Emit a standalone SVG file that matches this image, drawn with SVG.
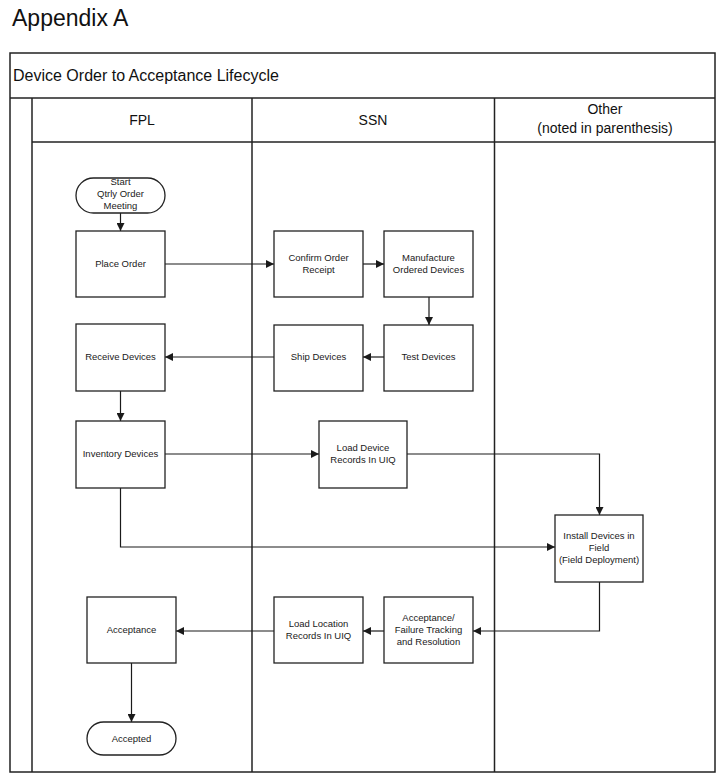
<svg xmlns="http://www.w3.org/2000/svg" width="725" height="780" viewBox="0 0 725 780">
<style>
.frame{fill:none;stroke:#222;stroke-width:1.5}
.box{fill:#fff;stroke:#222;stroke-width:1.3}
.t{font-family:"Liberation Sans",Arial,sans-serif;font-size:9.5px;fill:#1a1a1a;text-anchor:middle}
.h{font-family:"Liberation Sans",Arial,sans-serif;font-size:14px;fill:#111;text-anchor:middle}
.c{fill:none;stroke:#1a1a1a;stroke-width:1.2}
</style>
<defs>
<marker id="ah" viewBox="0 0 10 10" refX="10" refY="5" markerWidth="8" markerHeight="8" markerUnits="userSpaceOnUse" orient="auto">
<path d="M0,0 L10,5 L0,10 z" fill="#1a1a1a"/>
</marker>
</defs>
<rect width="725" height="780" fill="#fff"/>
<text x="12" y="26" font-family="'Liberation Sans',Arial,sans-serif" font-size="23" fill="#111">Appendix A</text>
<g id="frame">
<rect class="frame" x="10" y="53" width="705" height="719"/>
<line class="frame" x1="10" y1="98" x2="715" y2="98"/>
<line class="frame" x1="32" y1="98" x2="32" y2="772"/>
<line class="frame" x1="252" y1="98" x2="252" y2="772"/>
<line class="frame" x1="494.5" y1="98" x2="494.5" y2="772"/>
<line class="frame" x1="32" y1="142" x2="715" y2="142"/>
<text x="13" y="81" font-family="'Liberation Sans',Arial,sans-serif" font-size="16" fill="#111">Device Order to Acceptance Lifecycle</text>
<text class="h" x="142" y="125">FPL</text>
<text class="h" x="373" y="125">SSN</text>
<text class="h" x="605" y="114">Other</text>
<text class="h" x="605" y="133">(noted in parenthesis)</text>
</g>
<g id="connectors">
<line class="c" x1="120.5" y1="213" x2="120.5" y2="231" marker-end="url(#ah)"/>
<line class="c" x1="165" y1="264" x2="274" y2="264" marker-end="url(#ah)"/>
<line class="c" x1="363" y1="264" x2="384" y2="264" marker-end="url(#ah)"/>
<line class="c" x1="429" y1="297" x2="429" y2="325" marker-end="url(#ah)"/>
<line class="c" x1="384" y1="357" x2="363" y2="357" marker-end="url(#ah)"/>
<line class="c" x1="274" y1="357" x2="165" y2="357" marker-end="url(#ah)"/>
<line class="c" x1="120.5" y1="391" x2="120.5" y2="421" marker-end="url(#ah)"/>
<line class="c" x1="165" y1="454" x2="319" y2="454" marker-end="url(#ah)"/>
<polyline class="c" points="407,454 599.5,454 599.5,515" marker-end="url(#ah)"/>
<polyline class="c" points="120.5,488 120.5,547 555,547" marker-end="url(#ah)"/>
<polyline class="c" points="599.5,582 599.5,631 473,631" marker-end="url(#ah)"/>
<line class="c" x1="384" y1="631" x2="363" y2="631" marker-end="url(#ah)"/>
<line class="c" x1="274" y1="631" x2="176" y2="631" marker-end="url(#ah)"/>
<line class="c" x1="131.5" y1="663" x2="131.5" y2="722" marker-end="url(#ah)"/>
</g>
<g id="start">
<rect class="box" x="76" y="178" width="89" height="35" rx="17.5"/>
<text class="t" x="120.5" y="185">Start</text>
<text class="t" x="120.5" y="197">Qtrly Order</text>
<text class="t" x="120.5" y="209">Meeting</text>
</g>
<g id="place-order">
<rect class="box" x="76" y="231" width="89" height="66"/>
<text class="t" x="120.5" y="267">Place Order</text>
</g>
<g id="confirm-order">
<rect class="box" x="274" y="231" width="89" height="66"/>
<text class="t" x="318.5" y="261">Confirm Order</text>
<text class="t" x="318.5" y="273">Receipt</text>
</g>
<g id="manufacture">
<rect class="box" x="384" y="231" width="89" height="66"/>
<text class="t" x="428.5" y="261">Manufacture</text>
<text class="t" x="428.5" y="273">Ordered Devices</text>
</g>
<g id="receive-devices">
<rect class="box" x="76" y="324" width="89" height="67"/>
<text class="t" x="120.5" y="360">Receive Devices</text>
</g>
<g id="ship-devices">
<rect class="box" x="274" y="325" width="89" height="66"/>
<text class="t" x="318.5" y="360">Ship Devices</text>
</g>
<g id="test-devices">
<rect class="box" x="384" y="325" width="89" height="66"/>
<text class="t" x="428.5" y="360">Test Devices</text>
</g>
<g id="inventory-devices">
<rect class="box" x="76" y="421" width="89" height="67"/>
<text class="t" x="120.5" y="457">Inventory Devices</text>
</g>
<g id="load-device-records">
<rect class="box" x="319" y="421" width="88" height="67"/>
<text class="t" x="363" y="451">Load Device</text>
<text class="t" x="363" y="463">Records In UIQ</text>
</g>
<g id="install-devices">
<rect class="box" x="555" y="515" width="88" height="67"/>
<text class="t" x="599" y="539">Install Devices in</text>
<text class="t" x="599" y="551">Field</text>
<text class="t" x="599" y="563">(Field Deployment)</text>
</g>
<g id="acceptance-failure">
<rect class="box" x="384" y="597" width="89" height="66"/>
<text class="t" x="428.5" y="621">Acceptance/</text>
<text class="t" x="428.5" y="633">Failure Tracking</text>
<text class="t" x="428.5" y="645">and Resolution</text>
</g>
<g id="load-location-records">
<rect class="box" x="274" y="597" width="89" height="66"/>
<text class="t" x="318.5" y="627">Load Location</text>
<text class="t" x="318.5" y="639">Records In UIQ</text>
</g>
<g id="acceptance">
<rect class="box" x="87" y="597" width="89" height="66"/>
<text class="t" x="131.5" y="633">Acceptance</text>
</g>
<g id="accepted">
<rect class="box" x="87" y="722" width="89" height="33" rx="16.5"/>
<text class="t" x="131.5" y="741.5">Accepted</text>
</g>
</svg>
